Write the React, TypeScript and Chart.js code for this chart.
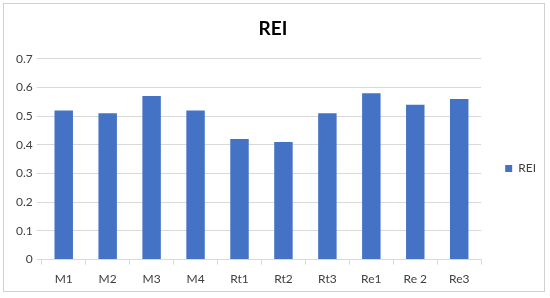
import React, { useEffect, useRef } from "react";
import { Chart, registerables } from "chart.js";

Chart.register(...registerables);

const categories = ["M1", "M2", "M3", "M4", "Rt1", "Rt2", "Rt3", "Re1", "Re 2", "Re3"];
const reiValues = [0.52, 0.51, 0.57, 0.52, 0.42, 0.41, 0.51, 0.58, 0.54, 0.56];
const seriesName = "REI";
const chartTitle = "REI";

const FONT = "Lato, 'Open Sans', sans-serif";

const frame = {
  id: "frame",
  beforeDraw(chart: any) {
    const ctx = chart.ctx;
    ctx.save();
    ctx.fillStyle = "#ffffff";
    ctx.fillRect(0, 0, chart.width, chart.height);
    ctx.strokeStyle = "#d0d0d0";
    ctx.lineWidth = 1;
    ctx.strokeRect(3.5, 3.5, 541, 288);
    ctx.restore();
  },
};

const legendShift = {
  id: "legendShift",
  afterLayout(chart: any) {
    const lg = chart.legend;
    if (!lg) return;
    const dx = 12;
    const dy = 17;
    lg.left += dx;
    lg.right += dx;
    lg.top += dy;
    lg.bottom += dy;
  },
};

export default function App() {
  const ref = useRef<HTMLCanvasElement | null>(null);
  useEffect(() => {
    if (!ref.current) return;
    const chart = new Chart(ref.current, {
      type: "bar",
      data: {
        labels: categories,
        datasets: [
          {
            label: seriesName,
            data: reiValues,
            backgroundColor: "#4472C4",
            borderWidth: 0,
            barPercentage: 0.42,
            categoryPercentage: 1,
          },
        ],
      },
      plugins: [frame, legendShift],
      options: {
        responsive: false,
        animation: false,
        layout: { padding: { left: 12, right: 16, top: 10, bottom: 5 } },
        plugins: {
          title: {
            display: true,
            text: chartTitle,
            color: "#000000",
            font: { family: FONT, size: 19, weight: "bold" },
            padding: { top: 7, bottom: 19 },
          },
          legend: {
            position: "right",
            labels: {
              boxWidth: 7,
              boxHeight: 7,
              color: "#404040",
              font: { family: FONT, size: 12 },
              padding: 12,
            },
          },
          tooltip: { enabled: false },
        },
        scales: {
          x: {
            grid: {
              display: true,
              drawOnChartArea: false,
              drawTicks: true,
              tickLength: 5,
              offset: true,
              color: "#d9d9d9",
            },
            border: { display: true, color: "#d9d9d9" },
            ticks: {
              color: "#404040",
              font: { family: FONT, size: 12 },
              padding: 7,
            },
          },
          y: {
            min: 0,
            max: 0.7,
            grid: { color: "#d9d9d9", tickLength: 5, drawTicks: true },
            border: { display: false },
            ticks: {
              stepSize: 0.1,
              color: "#404040",
              font: { family: FONT, size: 12 },
              padding: 4,
              callback: (v: any) => (Number(v) === 0 ? "0" : Number(v).toFixed(1)),
            },
          },
        },
      },
    });
    return () => chart.destroy();
  }, []);
  return (
    <div style={{ position: "fixed", left: 0, top: 0, width: 550, height: 298 }}>
      <canvas ref={ref} width={550} height={298} style={{ width: 550, height: 298 }} />
    </div>
  );
}
